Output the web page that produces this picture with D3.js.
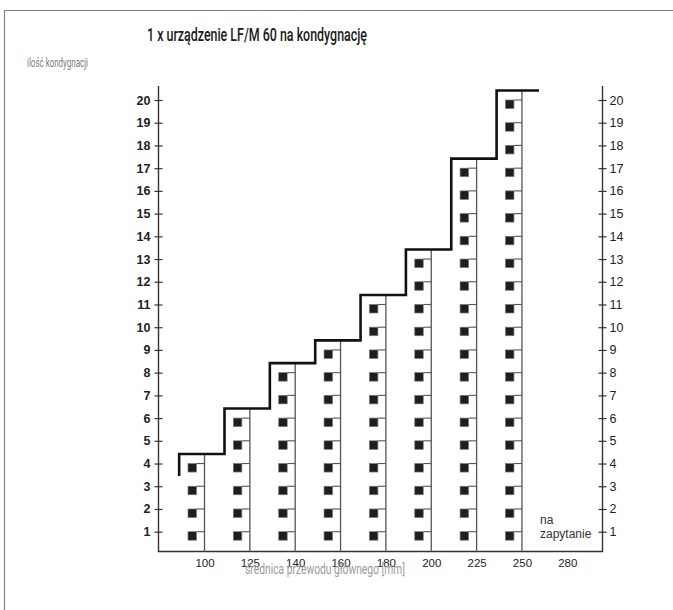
<!DOCTYPE html>
<html>
<head>
<meta charset="utf-8">
<script src="https://cdn.jsdelivr.net/npm/d3@7"></script>
<style>
  body { margin: 0; background: #fff; }
  svg { display: block; }
</style>
</head>
<body>
<svg width="673" height="610"></svg>
<script>
// data
var diameters = ["100", "125", "140", "160", "180", "200", "225", "250", "280"];
var floorsPerDiameter = [4, 6, 8, 9, 11, 13, 17, 20];
var floorTicks = [1, 2, 3, 4, 5, 6, 7, 8, 9, 10, 11, 12, 13, 14, 15, 16, 17, 18, 19, 20];
var onRequestLabel = ["na", "zapytanie"];
var titleText = "1 x urządzenie LF/M 60 na kondygnację";
var yTitleText = "ilość kondygnacji";
var xTitleText = "średnica przewodu głównego [mm]";

var svg = d3.select('svg');
var font = "'Liberation Sans', Arial, sans-serif";

// frame (only left and top edges are visible)
svg.append("path")
    .attr("d", "M4.5,610 L4.5,10.5 L673,10.5")
    .attr("fill", "none")
    .attr("stroke", "#808080")
    .attr("stroke-width", 1.2);

// scales
var x = d3.scalePoint()
    .domain(diameters)
    .range([204.5, 567.3]);
var colStep = x.step();

var y = d3.scaleLinear()
    .domain([1, 20])
    .range([531.7, 100]);

var axisLeftX = 158.5, axisRightX = 602.5, axisBottomY = 551.5, axisTopY = 86;

// titles
svg.append("text")
    .attr("x", 147)
    .attr("y", 41)
    .attr("textLength", 220)
    .attr("lengthAdjust", "spacingAndGlyphs")
    .style("font-family", "Roboto, sans-serif")
    .style("font-size", "19px")
    .style("font-weight", 500)
    .attr("fill", "#1a1a1a")
    .text(titleText);

svg.append("text")
    .attr("x", 27)
    .attr("y", 67)
    .attr("textLength", 61)
    .attr("lengthAdjust", "spacingAndGlyphs")
    .style("font-family", "Roboto, sans-serif")
    .style("font-size", "13px")
    .attr("fill", "#808080")
    .text(yTitleText);

// axes lines
svg.append("path")
    .attr("d", "M" + axisLeftX + "," + axisTopY + " L" + axisLeftX + "," + axisBottomY +
               " L" + axisRightX + "," + axisBottomY + " L" + axisRightX + "," + axisTopY)
    .attr("fill", "none")
    .attr("stroke", "#333")
    .attr("stroke-width", 1.4);

// left axis
var gLeft = svg.append("g")
    .attr("transform", "translate(" + axisLeftX + ",0)")
    .call(d3.axisLeft(y).tickValues(floorTicks).tickSize(4).tickPadding(4));
gLeft.select(".domain").remove();
gLeft.selectAll(".tick line").attr("x1", -4).attr("x2", 4).attr("stroke", "#333").attr("stroke-width", 1.2);
gLeft.selectAll(".tick text")
    .style("font-family", font)
    .style("font-size", "12.5px")
    .style("font-weight", "bold")
    .attr("fill", "#222");

// right axis
var gRight = svg.append("g")
    .attr("transform", "translate(" + axisRightX + ",0)")
    .call(d3.axisRight(y).tickValues(floorTicks).tickSize(4).tickPadding(3));
gRight.select(".domain").remove();
gRight.selectAll(".tick line").attr("x1", -4).attr("x2", 4).attr("stroke", "#333").attr("stroke-width", 1.2);
gRight.selectAll(".tick text")
    .style("font-family", font)
    .style("font-size", "12.5px")
    .attr("fill", "#222");

// bottom axis labels
var gBottom = svg.append("g")
    .attr("transform", "translate(0," + axisBottomY + ")")
    .call(d3.axisBottom(x).tickSize(0).tickPadding(7));
gBottom.select(".domain").remove();
gBottom.selectAll(".tick text")
    .style("font-family", font)
    .style("font-size", "11.5px")
    .attr("fill", "#222");

// x title sits under the labels, as in the original
svg.append("text")
    .attr("x", 245)
    .attr("y", 574)
    .attr("textLength", 160)
    .attr("lengthAdjust", "spacingAndGlyphs")
    .style("font-family", "Roboto, sans-serif")
    .style("font-size", "14px")
    .attr("fill", "#9a9a9a")
    .text(xTitleText);

// buildings: one column per diameter
function roofY(n) { return y(n + 0.42); }

var cols = floorsPerDiameter.map(function(n, i) { return { d: diameters[i], n: n }; });

var colG = svg.selectAll("g.col")
    .data(cols)
    .enter().append("g")
    .attr("class", "col");

// walls
colG.append("line")
    .attr("x1", function(c) { return x(c.d); })
    .attr("x2", function(c) { return x(c.d); })
    .attr("y1", axisBottomY)
    .attr("y2", function(c) { return roofY(c.n); })
    .attr("stroke", "#555")
    .attr("stroke-width", 1.3);

// floors (short line + square)
var floorG = colG.selectAll("g.floor")
    .data(function(c) { return d3.range(1, c.n + 1).map(function(k) { return { d: c.d, k: k }; }); })
    .enter().append("g")
    .attr("class", "floor");

floorG.append("line")
    .attr("x1", function(f) { return x(f.d) - 8; })
    .attr("x2", function(f) { return x(f.d); })
    .attr("y1", function(f) { return y(f.k); })
    .attr("y2", function(f) { return y(f.k); })
    .attr("stroke", "#555")
    .attr("stroke-width", 1.1);

floorG.append("rect")
    .attr("x", function(f) { return x(f.d) - 16.5; })
    .attr("y", function(f) { return y(f.k); })
    .attr("width", 8.5)
    .attr("height", 8.5)
    .attr("fill", "#1e1e1e")
    .attr("stroke", "#777")
    .attr("stroke-width", 0.7);

// stepped roof line
var stepPts = [{ x: x(diameters[0]) - colStep + 20, y: y(floorsPerDiameter[0] - 0.55) }];
cols.forEach(function(c) {
  stepPts.push({ x: x(c.d) - colStep + 20, y: roofY(c.n) });
});
var last = cols[cols.length - 1];
stepPts.push({ x: x(last.d) + 17, y: roofY(last.n) });

svg.append("path")
    .datum(stepPts)
    .attr("d", d3.line().x(function(p) { return p.x; }).y(function(p) { return p.y; }).curve(d3.curveStepAfter))
    .attr("fill", "none")
    .attr("stroke", "#111")
    .attr("stroke-width", 2.6);

// "na zapytanie" for the last diameter
svg.selectAll("text.req")
    .data(onRequestLabel)
    .enter().append("text")
    .attr("class", "req")
    .attr("x", 540)
    .attr("y", function(d, i) { return 524 + i * 14; })
    .style("font-family", font)
    .style("font-size", "12px")
    .attr("fill", "#333")
    .text(function(d) { return d; });
</script>
</body>
</html>
